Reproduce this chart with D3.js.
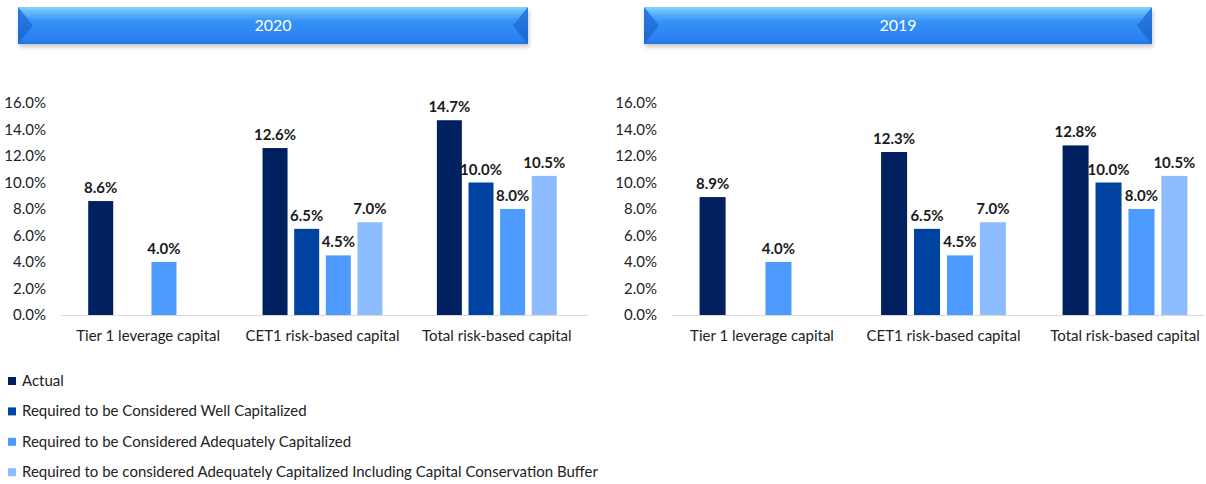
<!DOCTYPE html>
<html>
<head>
<meta charset="utf-8">
<script src="https://cdn.jsdelivr.net/npm/d3@7"></script>
<style>
  html, body { margin: 0; padding: 0; background: #fff; }
  svg { display: block; font-family: Lato, "Open Sans", sans-serif; }
</style>
</head>
<body>
<svg id="chart" width="1206" height="484"></svg>
<script>
const categories = ['Tier 1 leverage capital', 'CET1 risk-based capital', 'Total risk-based capital'];
const seriesNames = [
  'Actual',
  'Required to be Considered Well Capitalized',
  'Required to be Considered Adequately Capitalized',
  'Required to be considered Adequately Capitalized Including Capital Conservation Buffer'
];
const seriesColors = ['#002060', '#0042a0', '#4d9bff', '#8dbcff'];
const yTicks = [0, 2, 4, 6, 8, 10, 12, 14, 16];

// values in percent, null = no bar
const actual2020   = [8.6, 12.6, 14.7];
const well2020     = [null, 6.5, 10.0];
const adequate2020 = [4.0, 4.5, 8.0];
const buffer2020   = [null, 7.0, 10.5];

const actual2019   = [8.9, 12.3, 12.8];
const well2019     = [null, 6.5, 10.0];
const adequate2019 = [4.0, 4.5, 8.0];
const buffer2019   = [null, 7.0, 10.5];

const panels = [
  {title: '2020', series: [actual2020, well2020, adequate2020, buffer2020],
   banner: [18, 528], band: [61, 584], labelX: 46},
  {title: '2019', series: [actual2019, well2019, adequate2019, buffer2019],
   banner: [644, 1152], band: [671.25, 1215.75], labelX: 657}
];

const svg = d3.select('#chart');
const defs = svg.append('defs');

let grad = defs.append('linearGradient').attr('id', 'bannerGrad')
  .attr('x1', 0).attr('y1', 0).attr('x2', 0).attr('y2', 1);
grad.append('stop').attr('offset', '0%').attr('stop-color', '#86d3fd');
grad.append('stop').attr('offset', '18%').attr('stop-color', '#58b2fb');
grad.append('stop').attr('offset', '40%').attr('stop-color', '#3590f7');
grad.append('stop').attr('offset', '90%').attr('stop-color', '#2a80f2');
grad.append('stop').attr('offset', '100%').attr('stop-color', '#2372e0');

let bevel = defs.append('linearGradient').attr('id', 'bevelGrad')
  .attr('x1', 0).attr('y1', 0).attr('x2', 0).attr('y2', 1);
bevel.append('stop').attr('offset', '0%').attr('stop-color', '#2a7de6');
bevel.append('stop').attr('offset', '100%').attr('stop-color', '#1c66cf');

defs.append('filter').attr('id', 'shadow')
  .attr('x', '-5%').attr('y', '-50%').attr('width', '110%').attr('height', '200%')
  .append('feGaussianBlur').attr('stdDeviation', 2);

const yScale = d3.scaleLinear().domain([0, 16]).range([315, 103]);
const bannerTop = 7, bannerBottom = 44;

panels.forEach(p => {
  const g = svg.append('g');

  // banner
  const [bx0, bx1] = p.banner;
  const bh = bannerBottom - bannerTop;
  g.append('rect')
    .attr('x', bx0 + 1).attr('y', bannerTop + 3)
    .attr('width', bx1 - bx0).attr('height', bh)
    .attr('fill', '#9a9a9a').attr('opacity', 0.55)
    .attr('filter', 'url(#shadow)');
  g.append('rect')
    .attr('x', bx0).attr('y', bannerTop)
    .attr('width', bx1 - bx0).attr('height', bh)
    .attr('fill', 'url(#bannerGrad)');
  const bev = 15;
  g.append('path')
    .attr('d', `M${bx0},${bannerTop} L${bx0 + bev},${bannerTop + bh / 2} L${bx0},${bannerBottom} Z`)
    .attr('fill', 'url(#bevelGrad)');
  g.append('path')
    .attr('d', `M${bx1},${bannerTop} L${bx1 - bev},${bannerTop + bh / 2} L${bx1},${bannerBottom} Z`)
    .attr('fill', 'url(#bevelGrad)');
  g.append('text')
    .attr('x', (bx0 + bx1) / 2).attr('y', (bannerTop + bannerBottom) / 2 + 5)
    .attr('text-anchor', 'middle')
    .attr('fill', '#fff')
    .style('font-size', '16px')
    .text(p.title);

  // scales
  const x0 = d3.scaleBand().domain(categories).range(p.band);
  const x1 = d3.scaleBand().domain(d3.range(seriesNames.length))
    .range([0, x0.bandwidth()])
    .paddingInner(0.21).paddingOuter(0.86);

  // y tick labels
  g.append('g').selectAll('text').data(yTicks).join('text')
    .attr('x', p.labelX).attr('y', d => yScale(d) + 5)
    .attr('text-anchor', 'end')
    .attr('fill', '#222')
    .style('font-size', '15px')
    .text(d => d3.format('.1f')(d) + '%');

  // axis line
  g.append('line')
    .attr('x1', p.band[0]).attr('x2', Math.min(p.band[1] + 4, 1204))
    .attr('y1', yScale(0) + 0.5).attr('y2', yScale(0) + 0.5)
    .attr('stroke', '#d9d9d9').attr('stroke-width', 1);

  // bars
  const cells = [];
  p.series.forEach((vals, si) => {
    vals.forEach((v, ci) => {
      if (v != null) cells.push({si, ci, v});
    });
  });

  const barG = g.append('g');
  barG.selectAll('rect').data(cells).join('rect')
    .attr('x', d => x0(categories[d.ci]) + x1(d.si))
    .attr('y', d => yScale(d.v))
    .attr('width', x1.bandwidth())
    .attr('height', d => yScale(0) - yScale(d.v))
    .attr('fill', d => seriesColors[d.si]);

  barG.selectAll('text').data(cells).join('text')
    .attr('x', d => x0(categories[d.ci]) + x1(d.si) + x1.bandwidth() / 2)
    .attr('y', d => yScale(d.v) - 8)
    .attr('text-anchor', 'middle')
    .attr('fill', '#1a1a1a')
    .style('font-size', '15px')
    .style('font-weight', 'bold')
    .text(d => d3.format('.1f')(d.v) + '%');

  // category labels
  g.append('g').selectAll('text').data(categories).join('text')
    .attr('x', d => x0(d) + x0.bandwidth() / 2)
    .attr('y', 341)
    .attr('text-anchor', 'middle')
    .attr('fill', '#222')
    .style('font-size', '15px')
    .text(d => d);
});

// legend
const legend = svg.append('g').attr('transform', 'translate(8, 381)');
const rows = legend.selectAll('g').data(seriesNames).join('g')
  .attr('transform', (d, i) => `translate(0, ${i * 30.4})`);
rows.append('rect')
  .attr('x', 0).attr('y', -4).attr('width', 8).attr('height', 8)
  .attr('fill', (d, i) => seriesColors[i]);
rows.append('text')
  .attr('x', 14).attr('y', 5)
  .attr('fill', '#222')
  .style('font-size', '15px')
  .text(d => d);
</script>
</body>
</html>
